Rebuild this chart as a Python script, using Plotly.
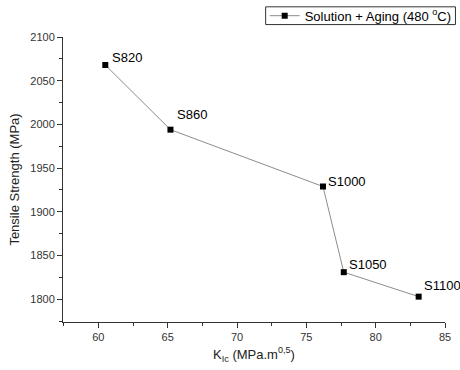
import plotly.graph_objects as go

# Data
kic = [60.5, 65.2, 76.2, 77.7, 83.1]
tensile = [2068, 1994, 1929, 1831, 1803]
labels = ["S820", "S860", "S1000", "S1050", "S1100"]
series_name = "Solution + Aging (480 <sup>o</sup>C)"
x_ticks = [60, 65, 70, 75, 80, 85]
y_ticks = [1800, 1850, 1900, 1950, 2000, 2050, 2100]

# label pixel offsets (left edge, vertical centre) relative to marker
label_dx = [5, 5, 3, 3, 3.5]
label_dy = [7, 15.5, 4.5, 8, 11]

main_font = "Liberation Sans, Arial, sans-serif"

fig = go.Figure()
fig.add_trace(go.Scatter(
    x=kic, y=tensile, mode="lines+markers", name=series_name,
    line=dict(color="#8c8c8c", width=1),
    marker=dict(symbol="square", size=6, color="black"),
    showlegend=True,
))

for xv, yv, t, dx, dy in zip(kic, tensile, labels, label_dx, label_dy):
    fig.add_annotation(x=xv, y=yv, xref="x", yref="y", text=t, showarrow=False,
                       xanchor="left", yanchor="middle", xshift=dx, yshift=dy,
                       font=dict(family=main_font, size=13, color="black"))

# legend frame
fig.add_shape(type="rect", xref="paper", yref="paper",
              x0=0.5305, x1=1.0274, y0=1.0436, y1=1.1059,
              line=dict(color="#333", width=1), fillcolor="rgba(0,0,0,0)")

fig.update_layout(
    width=460, height=370,
    margin=dict(l=62.5, r=14.5, t=37.4, b=48.3, autoexpand=False),
    paper_bgcolor="white", plot_bgcolor="white",
    font=dict(family=main_font, color="#222"),
    showlegend=True,
    legend=dict(x=0.528, y=1.0746, xanchor="left", yanchor="middle",
                borderwidth=0, bgcolor="rgba(0,0,0,0)",
                font=dict(size=13, family=main_font, color="black"),
                itemwidth=30, tracegroupgap=0),
    xaxis=dict(range=[57.45, 85], tickvals=x_ticks, ticks="outside", ticklen=5,
               tickcolor="#333", showline=True, linecolor="#333", linewidth=1,
               showgrid=False, zeroline=False, tickfont=dict(size=11, color="#333"),
               automargin=False,
               minor=dict(dtick=2.5, tick0=0, ticks="outside", ticklen=3, tickcolor="#333"),
               title=dict(text="K<sub>Ic</sub> (MPa.m<sup>0,5</sup>)", font=dict(size=13, color="#222"),
                          standoff=7)),
    yaxis=dict(range=[1774, 2100], tickvals=y_ticks, ticks="outside", ticklen=5,
               tickcolor="#333", showline=True, linecolor="#333", linewidth=1,
               showgrid=False, zeroline=False, tickfont=dict(size=11, color="#333"),
               automargin=False,
               minor=dict(dtick=25, tick0=0, ticks="outside", ticklen=3, tickcolor="#333"),
               title=dict(text="Tensile Strength (MPa)", font=dict(size=13, color="#222"),
                          standoff=7)),
)

fig.write_html("out.html", config={"displayModeBar": False},
               post_script="document.body.style.margin='0';document.body.style.overflow='hidden';")
